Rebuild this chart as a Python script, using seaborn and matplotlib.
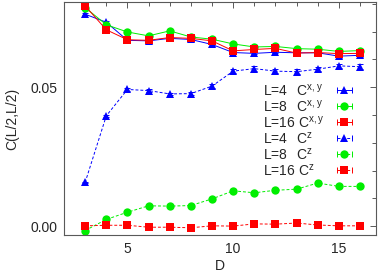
import matplotlib
matplotlib.use("Agg")
import matplotlib.pyplot as plt
from matplotlib.lines import Line2D
from matplotlib.legend_handler import HandlerLine2D, HandlerTuple
from matplotlib.ticker import MultipleLocator
import seaborn as sns
import pandas as pd
import numpy as np

D = list(range(3, 17))

cxy_L4 = [0.0763, 0.0734, 0.0669, 0.0667, 0.0676, 0.0672, 0.0654, 0.0625,
          0.0622, 0.0626, 0.0624, 0.0624, 0.0612, 0.0615]
cxy_L8 = [0.0787, 0.0725, 0.0699, 0.0685, 0.0703, 0.0681, 0.0673, 0.0656,
          0.0645, 0.0647, 0.0639, 0.0637, 0.0629, 0.0632]
cxy_L16 = [0.0793, 0.0707, 0.0671, 0.0669, 0.0679, 0.0676, 0.0667, 0.0631,
           0.0636, 0.0640, 0.0623, 0.0625, 0.0621, 0.0622]
cz_L4 = [0.0157, 0.0397, 0.0492, 0.0488, 0.0476, 0.0477, 0.0504, 0.0558,
         0.0567, 0.0558, 0.0556, 0.0565, 0.0577, 0.0574]
cz_L8 = [-0.0016, 0.0024, 0.0050, 0.0073, 0.0072, 0.0074, 0.0098, 0.0127,
         0.0120, 0.0129, 0.0133, 0.0155, 0.0143, 0.0143]
cz_L16 = [0.0001, 0.0003, 0.0003, -0.0004, -0.0004, -0.0006, 0.0001, 0.0000,
          0.0008, 0.0007, 0.0011, 0.0004, 0.0001, 0.0001]

err_cxy = [0.0003, 0.0003, 0.0003, 0.0003, 0.0003, 0.0003, 0.0004, 0.0004,
           0.0004, 0.0004, 0.0004, 0.0004, 0.0005, 0.0005]
err_cz4 = [0.0003, 0.0003, 0.0004, 0.0005, 0.0005, 0.0005, 0.0006, 0.0007,
           0.0008, 0.0007, 0.0008, 0.0008, 0.0008, 0.0008]
err_cz = [0.0002, 0.0002, 0.0003, 0.0003, 0.0003, 0.0003, 0.0004, 0.0004,
          0.0004, 0.0004, 0.0004, 0.0005, 0.0005, 0.0005]

# one digit of padding so "L=4" lines up with "L=16"
pad = r"$\hspace{0.556}$"
series = [
    ("L=4" + pad + " C$^{x,y}$", cxy_L4, err_cxy, "#0000ff", "^", "-"),
    ("L=8" + pad + " C$^{x,y}$", cxy_L8, err_cxy, "#00ee00", "o", "-"),
    ("L=16 C$^{x,y}$", cxy_L16, err_cxy, "#ff0000", "s", "-"),
    ("L=4" + pad + " C$^{z}$", cz_L4, err_cz4, "#0000ff", "^", "--"),
    ("L=8" + pad + " C$^{z}$", cz_L8, err_cz, "#00ee00", "o", "--"),
    ("L=16 C$^{z}$", cz_L16, err_cz, "#ff0000", "s", "--"),
]

sns.set_style("white")
plt.rcParams["font.family"] = ["Liberation Sans", "DejaVu Sans"]
plt.rcParams["mathtext.fontset"] = "custom"
plt.rcParams["mathtext.rm"] = "Liberation Sans"
plt.rcParams["mathtext.it"] = "Liberation Sans"

fig = plt.figure(figsize=(3.82, 2.76), dpi=100)
ax = fig.add_axes([0.1675, 0.1486, 0.8165, 0.8442])

handles = []
hmap = {}
for label, vals, err, col, mk, ls in series:
    df = pd.DataFrame({"D": D, "C": vals})
    ms = 5.5 if mk == "^" else 6
    sns.lineplot(data=df, x="D", y="C", ax=ax, color=col, marker=mk,
                 markersize=ms, markeredgewidth=0, linewidth=0.7,
                 linestyle=ls, legend=False)
    if ls == "--":
        ax.lines[-1].set_dashes((3, 2))
    ax.errorbar(D, vals, yerr=err, fmt="none", ecolor=col, elinewidth=0.7,
                capsize=2, capthick=0.7)
    h_caps = Line2D([], [], color=col, linewidth=0.7, marker="|",
                    markersize=4, markeredgewidth=0.7)
    if ls == "--":
        h_caps.set_dashes((3, 2))
    h_mark = Line2D([], [], color=col, marker=mk, markersize=ms,
                    markeredgewidth=0, linestyle="none")
    hmap[h_caps] = HandlerLine2D(numpoints=2)
    hmap[h_mark] = HandlerLine2D(numpoints=1)
    handles.append(((h_caps, h_mark), label))

hmap[tuple] = HandlerTuple(ndivide=1, pad=0)
leg = ax.legend([h for h, _ in handles], [l for _, l in handles],
                handler_map=hmap, loc="upper right",
                bbox_to_anchor=(0.955, 0.68), frameon=False,
                markerfirst=False, handlelength=1.7, labelspacing=0.0,
                handletextpad=0.6, fontsize=10, borderaxespad=0)

ax.set_xlim(2, 16.75)
ax.set_ylim(-0.0032, 0.0807)
ax.xaxis.set_major_locator(MultipleLocator(5))
ax.xaxis.set_minor_locator(MultipleLocator(1))
ax.yaxis.set_major_locator(MultipleLocator(0.05))
ax.yaxis.set_minor_locator(MultipleLocator(0.01))
ax.yaxis.set_major_formatter(matplotlib.ticker.FormatStrFormatter("%.2f"))
ax.tick_params(which="both", direction="in", top=True, right=True,
               color="0.35", labelsize=10, pad=5)
ax.tick_params(which="major", length=4, width=0.7)
ax.tick_params(which="minor", length=3, width=0.7)
for sp in ax.spines.values():
    sp.set_color("0.35")
    sp.set_linewidth(0.8)

ax.set_xlabel("D", fontsize=10, labelpad=2)
ax.set_ylabel("C(L/2,L/2)", fontsize=10, labelpad=8)

# left-align legend texts, keep the samples in one column on the right
fig.canvas.draw()
renderer = fig.canvas.get_renderer()
columns = leg._legend_box.get_children()[1].get_children()
for colbox in columns:
    rows = colbox.get_children()
    w = max(r.get_bbox(renderer).width for r in rows)
    for r in rows:
        r.mode = "expand"
        r.width = w
    colbox.align = "left"

fig.savefig("out.png", dpi=100)
